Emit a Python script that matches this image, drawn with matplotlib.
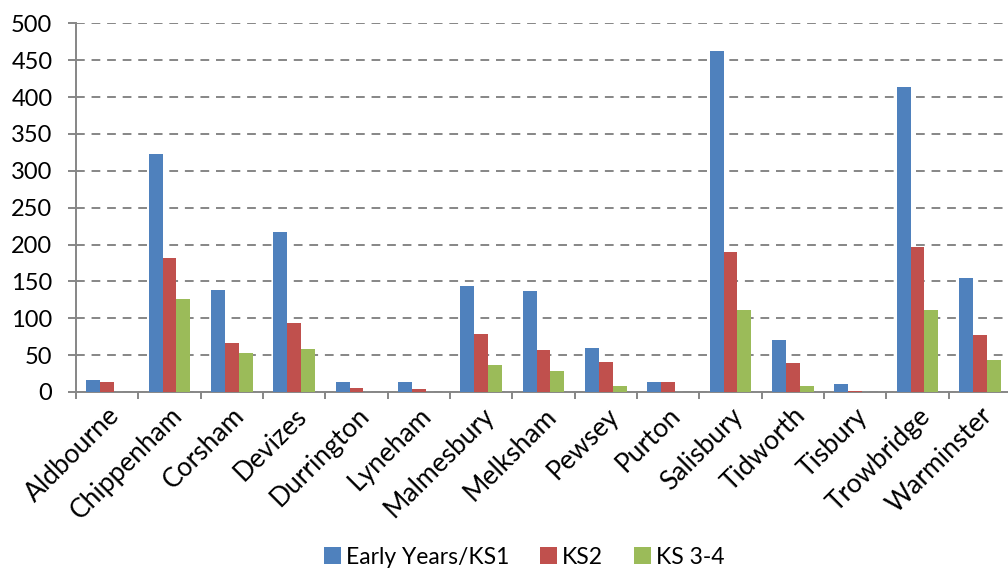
import matplotlib
matplotlib.use("Agg")
import matplotlib.pyplot as plt
import numpy as np

categories = ["Aldbourne", "Chippenham", "Corsham", "Devizes", "Durrington", "Lyneham",
              "Malmesbury", "Melksham", "Pewsey", "Purton", "Salisbury", "Tidworth",
              "Tisbury", "Trowbridge", "Warminster"]
early_years_ks1 = [16, 323, 139, 217, 13, 13, 144, 137, 59, 13, 462, 71, 11, 414, 155]
ks2 = [13, 182, 66, 94, 6, 4, 79, 57, 41, 13, 190, 39, 1, 197, 77]
ks3_4 = [0, 126, 53, 58, 0, 0, 36, 28, 8, 0, 111, 8, 0, 111, 43]
series_names = ["Early Years/KS1", "KS2", "KS 3-4"]
colors = ["#4F81BD", "#C0504D", "#9BBB59"]
yticks = list(range(0, 501, 50))

plt.rcParams['font.family'] = ['Lato', 'DejaVu Sans']

W, H = 1008, 569
fig = plt.figure(figsize=(W / 100, H / 100), dpi=100)
left, right, top, bottom = 76, 1011, 23.3, 392
ax = fig.add_axes([left / W, 1 - bottom / H, (right - left) / W, (bottom - top) / H])

x = np.arange(len(categories))
bw = 0.222
for i, (vals, name, c) in enumerate(zip([early_years_ks1, ks2, ks3_4], series_names, colors)):
    ax.bar(x + (i - 1) * bw, vals, width=bw, color=c, label=name, zorder=3,
           edgecolor='none')

ax.set_xlim(-0.5, len(categories) - 0.5)
ax.set_ylim(0, 500)
ax.set_yticks(yticks)
ax.set_yticklabels([str(v) for v in yticks], fontsize=17, color='#000000')
ax.yaxis.grid(True, linestyle=(0, (4.5, 3.5)), color='#868686', linewidth=1.4, zorder=0)
ax.set_axisbelow(True)

ax.set_xticks(np.arange(len(categories) + 1) - 0.5, minor=False)
ax.set_xticklabels([])
ax.set_xticks(x, minor=True)
ax.set_xticklabels(categories, minor=True, rotation=45, ha='right', va='top',
                   rotation_mode='anchor', fontsize=19)
ax.tick_params(axis='x', which='major', length=5, width=1.4, color='#868686', direction='out')
ax.tick_params(axis='x', which='minor', length=0, pad=8)
ax.tick_params(axis='y', length=6, width=1.4, color='#868686', direction='out', pad=11)

for s in ['top', 'right']:
    ax.spines[s].set_visible(False)
for s in ['left', 'bottom']:
    ax.spines[s].set_color('#868686')
    ax.spines[s].set_linewidth(1.4)

fig.legend(loc='lower center', bbox_to_anchor=(0.52, -0.034), ncol=3, frameon=False,
           fontsize=16.5, handlelength=0.75, handleheight=0.75, handletextpad=0.2,
           columnspacing=1.35)

fig.savefig("out.png", dpi=100)
